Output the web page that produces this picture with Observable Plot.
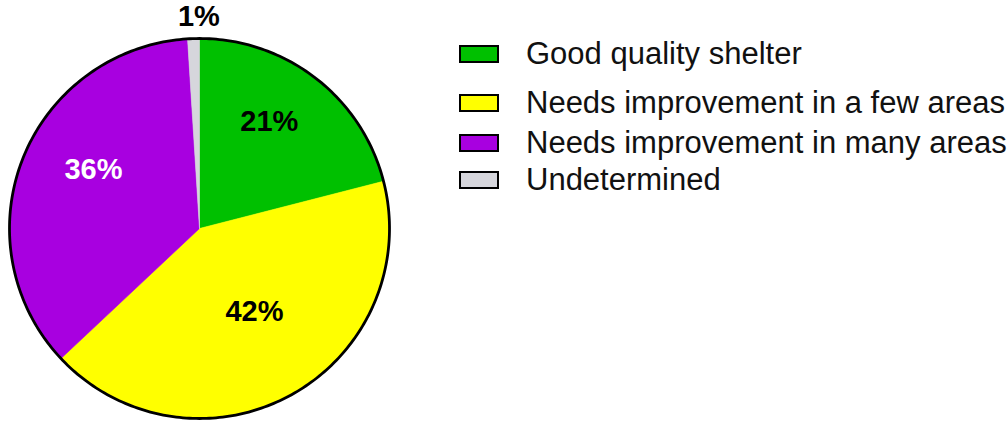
<!DOCTYPE html>
<html>
<head>
<meta charset="utf-8">
<script src="https://cdn.jsdelivr.net/npm/d3@7"></script>
<script src="https://cdn.jsdelivr.net/npm/@observablehq/plot@0.6"></script>
<style>
  html, body { margin: 0; padding: 0; background: #fff; }
  #wrap { position: relative; width: 1008px; height: 423px; overflow: hidden; }
  #chart { position: absolute; left: 0; top: 0; }
  #legend { position: absolute; left: 459px; top: 0; width: 560px; height: 220px; }
</style>
</head>
<body>
<div id="wrap"><div id="chart"></div><div id="legend"></div></div>
<script>
const categories = ["Good quality shelter", "Needs improvement in a few areas", "Needs improvement in many areas", "Undetermined"];
const shares = [21, 42, 36, 1];
const labels = ["21%", "42%", "36%", "1%"];
const colors = ["#00c000", "#ffff00", "#a800e0", "#d6d6dc"];

const rows = categories.map((c, i) => ({category: c, share: shares[i], label: labels[i]}));
const arcs = d3.pie().sort(null).value(d => d.share)(rows);

// slice outlines sampled along each arc (unit-circle data space, y up)
const slicePts = [];
arcs.forEach(a => {
  const n = Math.max(2, Math.ceil((a.endAngle - a.startAngle) / 0.01));
  slicePts.push({category: a.data.category, x: 0, y: 0});
  for (let k = 0; k <= n; k++) {
    const t = a.startAngle + (a.endAngle - a.startAngle) * k / n;
    slicePts.push({category: a.data.category, x: Math.sin(t), y: Math.cos(t)});
  }
  slicePts.push({category: a.data.category, x: 0, y: 0});
});
const rim = d3.range(0, 361).map(d => ({x: Math.sin(d * Math.PI / 180), y: Math.cos(d * Math.PI / 180)}));

const labelPos = arcs.map(a => {
  const m = (a.startAngle + a.endAngle) / 2;
  const small = a.data.share < 5;
  const k = small ? 1.115 : 0.6;
  return {label: a.data.label, category: a.data.category, small, x: k * Math.sin(m), y: k * Math.cos(m)};
});

const chart = Plot.plot({
  width: 1008,
  height: 423,
  margin: 0,
  x: {domain: [-1, 1], range: [9, 389], axis: null},
  y: {domain: [-1, 1], range: [418, 38], axis: null},
  color: {domain: categories, range: colors},
  style: {background: "transparent"},
  marks: [
    Plot.line(slicePts, {x: "x", y: "y", z: "category", fill: "category", stroke: "category", strokeWidth: 0.6}),
    Plot.line(rim, {x: "x", y: "y", stroke: "black", strokeWidth: 2.8}),
    Plot.text(labelPos.filter(d => !d.small && d.category !== categories[2]), {x: "x", y: "y", text: "label", dy: -17, fill: "black", fontSize: 29, fontWeight: "bold", fontFamily: "Liberation Sans, Arial, sans-serif"}),
    Plot.text(labelPos.filter(d => d.category === categories[2]), {x: "x", y: "y", text: "label", dy: -17, fill: "white", fontSize: 29, fontWeight: "bold", fontFamily: "Liberation Sans, Arial, sans-serif"}),
    Plot.text(labelPos.filter(d => d.small), {x: "x", y: "y", text: "label", dx: 6, fill: "black", fontSize: 29, fontWeight: "bold", fontFamily: "Liberation Sans, Arial, sans-serif"})
  ]
});
document.getElementById("chart").appendChild(chart);

const legend = chart.legend("color", {swatchWidth: 36, swatchHeight: 14, columns: 1});
document.getElementById("legend").appendChild(legend);
legend.style.fontFamily = "Liberation Sans, Arial, sans-serif";
legend.style.fontSize = "31px";
legend.style.margin = "0";
legend.style.columns = "auto";
legend.style.position = "relative";
const rowTops = [38, 87, 127, 164];
let i = 0;
for (const item of legend.querySelectorAll("div")) {
  if (!item.querySelector("svg")) continue;
  item.style.cssText += ";display:flex;align-items:center;height:31px;position:absolute;left:0;white-space:nowrap;font-size:31px;font-family:'Liberation Sans', Arial, sans-serif;color:#111;padding:0;margin:0;";
  item.style.top = rowTops[i] + "px";
  const sw = item.querySelector("svg");
  sw.style.border = "2.5px solid #000";
  sw.style.boxSizing = "content-box";
  sw.style.marginRight = "27px";
  sw.style.flexShrink = "0";
  i++;
}
</script>
</body>
</html>
